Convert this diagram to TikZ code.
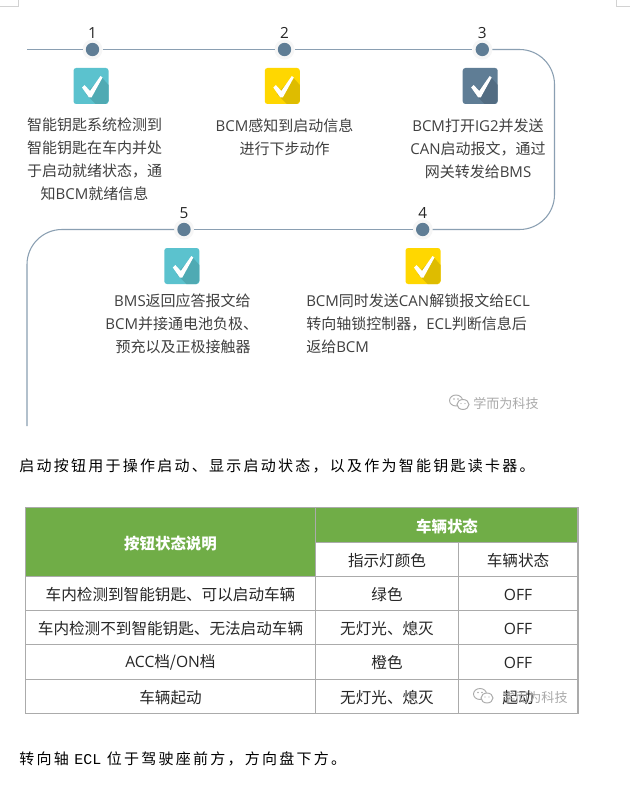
\documentclass[tikz,border=0pt]{standalone}
\usepackage{fontspec}
\setmainfont{Noto Sans CJK SC}
\newfontfamily\latf{Open Sans}
\newfontfamily\bodyf{Noto Sans CJK SC}[LetterSpace=15]
\newfontfamily\bodylat{Liberation Mono}
\definecolor{teal1}{HTML}{5BC2CE}\definecolor{teal2}{HTML}{4FAAB3}
\definecolor{yel1}{HTML}{FFD700}\definecolor{yel2}{HTML}{DEBC00}
\definecolor{sla1}{HTML}{5F7D95}\definecolor{sla2}{HTML}{526C82}
\definecolor{trackc}{HTML}{8A9FB2}
\definecolor{txt}{HTML}{404040}
\definecolor{grn}{HTML}{70AD47}
\definecolor{gridc}{HTML}{ABABAB}
\definecolor{wm}{HTML}{ABABAB}
\tikzset{
  track/.style={draw=trackc,line width=0.8pt},
  halo/.style={circle,fill=gray!7,minimum size=15pt,inner sep=0pt,outer sep=0pt},
  dot/.style={circle,fill=sla1,minimum size=10pt,inner sep=0pt},
  num/.style={font=\fontsize{11.5pt}{12pt}\selectfont,text=black!85,inner sep=0pt},
  para/.style={font=\fontsize{11.25pt}{17.25pt}\selectfont,text=txt,inner sep=0pt,yshift=-0.5pt},
  cell/.style={font=\fontsize{11.7pt}{12pt}\selectfont,text=black!85,inner sep=0pt,yshift=-0.6pt},
  headc/.style={font=\fontsize{11.6pt}{12pt}\selectfont\bfseries,text=white,inner sep=0pt,yshift=-0.9pt},
  bodyt/.style={font=\fontsize{11.25pt}{12pt}\selectfont\bodyf,text=black,inner sep=0pt,anchor=west},
  grid/.style={draw=gridc,line width=0.8pt},
  wmt/.style={font=\fontsize{9.8pt}{12pt}\selectfont,text=wm,inner sep=0pt,anchor=west},
  pics/chk/.style 2 args={code={
    \fill[#1,rounded corners=2pt] (0,0) rectangle (35,36);
    \fill[#2] (28,9) -- (35,17) -- (35,33) -- (32,36) -- (22,36) -- (12,26) -- cycle;
    \fill[white] (8.5,19.5) -- (11,17) -- (16.5,23) -- (27,8) -- (29,9.5) -- (18,29.5) -- (15.5,29.5) -- cycle;
  }},
  pics/wx/.style={code={
    \draw[wm,line width=0.7pt,fill=white] (-4,-2) ellipse [x radius=6.5,y radius=5.5];
    \draw[wm,line width=0.7pt,fill=white] (3,2) ellipse [x radius=6,y radius=5];
    \fill[wm] (-6,-3.5) circle [radius=.8] (-2,-3.5) circle [radius=.8] (1,1) circle [radius=.7] (5,1) circle [radius=.7];
  }},
}
\begin{document}
\begin{tikzpicture}[x=0.75pt,y=-0.75pt]
\useasboundingbox (0,0) rectangle (630,795);
\fill[white] (0,0) rectangle (630,795);
% page corner marks
\draw[gray!35,line width=0.5pt] (0,6) -- (18,6) -- (18,0);
\draw[gray!35,line width=0.5pt] (630,6) -- (616,6) -- (616,0);
% timeline nodes
\foreach \n/\x/\y in {1/92.5/49.5,2/284.5/49.5,3/482.3/49.5,4/422.7/229.5,5/184/229.5}{
  \node[halo] (h\n) at (\x,\y) {};
  \node[dot] (d\n) at (\x,\y) {};
  \node[num] (t\n) at (\x,\y-16.5) {\latf\n};
}
\coordinate (start) at (27,49.5);
\coordinate (cornerR) at (554.5,139);
\coordinate (endL) at (27,426);
\draw[track] (start) -- (h1);
\draw[track] (h1) -- (h2);
\draw[track] (h2) -- (h3);
\draw[track,rounded corners=26.25pt] (h3.east) -| (cornerR) |- (h4.east);
\draw[track] (h4) -- (h5);
\draw[track,rounded corners=26.25pt] (h5.west) -| (endL);
% icons
\pic at (73.5,68) {chk={teal1}{teal2}};
\pic at (264.8,68) {chk={yel1}{yel2}};
\pic at (462.7,68) {chk={sla1}{sla2}};
\pic at (164.3,248) {chk={teal1}{teal2}};
\pic at (405.5,248) {chk={yel1}{yel2}};
% step texts
\node[para,align=center] (p1) at (94.5,159) {智能钥匙系统检测到\\智能钥匙在车内并处\\于启动就绪状态，通\\知{\latf BCM}就绪信息};
\node[para,align=center] (p2) at (284.5,136.5) {{\latf BCM}感知到启动信息\\进行下步动作};
\node[para,align=center] (p3) at (478,148) {{\latf BCM}打开{\latf IG2}并发送\\{\latf CAN}启动报文，通过\\网关转发给{\latf BMS}};
\node[para,align=right,anchor=east] (p5) at (251,323) {{\latf BMS}返回应答报文给\\{\latf BCM}并接通电池负极、\kern-5.6pt\\预充以及正极接触器};
\node[para,align=left,anchor=west] (p4) at (306,323) {{\latf BCM}同时发送{\latf CAN}解锁报文给{\latf ECL}\\转向轴锁控制器，{\latf ECL}判断信息后\\返给{\latf BCM}};
% watermark 1
\pic at (460,402.5) {wx};
\node[wmt] (w1) at (473,403) {学而为科技};
% body 1
\node[bodyt] (b1) at (19,466) {启动按钮用于操作启动、显示启动状态，以及作为智能钥匙读卡器。};
% table
\fill[grn] (25.5,507.5) rectangle (315.5,576.5);
\fill[grn] (315.5,507.5) rectangle (578,542.5);
\draw[grid] (25.5,507.5) rectangle (578,713.5);
\draw[grid] (315.5,507.5) -- (315.5,713.5);
\draw[grid] (458.5,542.5) -- (458.5,713.5);
\draw[grid] (315.5,542.5) -- (578,542.5);
\draw[grid] (25.5,576.5) -- (578,576.5);
\draw[grid] (25.5,610.5) -- (578,610.5);
\draw[grid] (25.5,644.5) -- (578,644.5);
\draw[grid] (25.5,679.5) -- (578,679.5);
\node[headc] (c00) at (170.5,542) {按钮状态说明};
\node[headc] (c01) at (447,525) {车辆状态};
\node[cell] (c11) at (387,559.5) {指示灯颜色};
\node[cell] (c12) at (518,559.5) {车辆状态};
\node[cell] (c20) at (170.5,594) {车内检测到智能钥匙、可以启动车辆};
\node[cell] (c21) at (387,594) {绿色};
\node[cell] (c22) at (518,594) {\latf OFF};
\node[cell] (c30) at (170.5,628) {车内检测不到智能钥匙、无法启动车辆};
\node[cell] (c31) at (387,628) {无灯光、熄灭};
\node[cell] (c32) at (518,628) {\latf OFF};
\node[cell] (c40) at (170.5,662) {{\latf ACC}档/{\latf ON}档};
\node[cell] (c41) at (387,662) {橙色};
\node[cell] (c42) at (518,662) {\latf OFF};
\node[cell] (c50) at (170.5,697) {车辆起动};
\node[cell] (c51) at (387,697) {无灯光、熄灭};
\node[cell] (c52) at (518,697) {起动};
% watermark 2
\pic at (484,696) {wx};
\node[wmt] (w2) at (502,697) {学而为科技};
% body 2
\node[bodyt] (b2) at (19,759) {转向轴 {\bodylat ECL} 位于驾驶座前方，方向盘下方。};
\end{tikzpicture}
\end{document}
